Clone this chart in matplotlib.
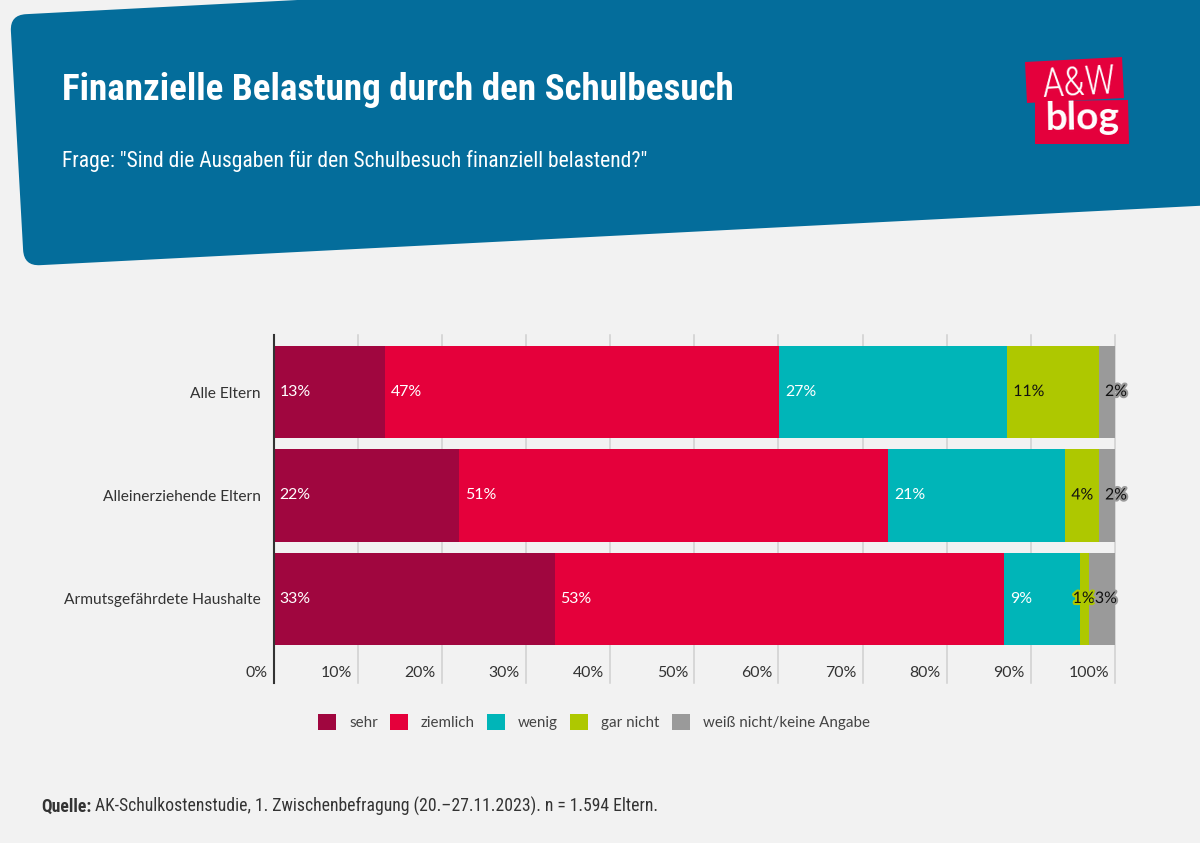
import matplotlib
matplotlib.use('Agg')
import matplotlib.pyplot as plt
from matplotlib import font_manager as fm
from matplotlib.path import Path
from matplotlib.patches import PathPatch, Polygon, Patch
import matplotlib.patheffects as pe
import matplotlib.transforms as mtransforms
import numpy as np

# ---------------- data ----------------
categories = ['Alle Eltern', 'Alleinerziehende Eltern', 'Armutsgefährdete Haushalte']
series_names = ['sehr', 'ziemlich', 'wenig', 'gar nicht', 'weiß nicht/keine Angabe']
sehr = [13.2, 22.1, 33.4]
ziemlich = [46.9, 50.9, 53.4]
wenig = [27.1, 21.1, 9.1]
gar_nicht = [10.9, 4.0, 1.0]
weiss_nicht = [1.9, 1.9, 3.1]
xticks = [0, 10, 20, 30, 40, 50, 60, 70, 80, 90, 100]
xtick_labels = ['0%', '10%', '20%', '30%', '40%', '50%', '60%', '70%', '80%', '90%', '100%']

title = 'Finanzielle Belastung durch den Schulbesuch'
subtitle = 'Frage: "Sind die Ausgaben für den Schulbesuch finanziell belastend?"'
source_bold = 'Quelle:'
source_text = 'AK-Schulkostenstudie, 1. Zwischenbefragung (20.–27.11.2023). n = 1.594 Eltern.'

# ---------------- style ----------------
series_colors = ['#a0063f', '#e5003b', '#00b5b8', '#aec800', '#9a9a9a']
label_colors = ['white', 'white', 'white', '#111111', '#111111']
bg_color = '#f2f2f2'
banner_color = '#046d9b'
logo_red = '#e4003c'
text_color = '#333333'

names = {f.name for f in fm.fontManager.ttflist}
def pick(cands, default):
    for c in cands:
        if c in names:
            return c
    return default

cond = pick(['Roboto Condensed', 'Liberation Sans Narrow', 'Open Sans Condensed',
             'DejaVu Sans Condensed', 'Noto Sans Condensed', 'Arial Narrow'], 'Liberation Sans')
body = pick(['Lato', 'Noto Sans', 'Open Sans'], 'DejaVu Sans')

W, H = 1200, 843
fig = plt.figure(figsize=(W / 100, H / 100), dpi=100, facecolor=bg_color)

# background axes in pixel coordinates
bg = fig.add_axes([0, 0, 1, 1], zorder=0)
bg.set_xlim(0, W)
bg.set_ylim(H, 0)
bg.axis('off')
bg.set_facecolor('none')


def rounded_poly(pts, radii):
    verts, codes = [], []
    n = len(pts)
    for i in range(n):
        V = np.array(pts[i], float)
        P = np.array(pts[i - 1], float)
        N = np.array(pts[(i + 1) % n], float)
        r = radii[i]
        if r == 0:
            verts.append(V); codes.append(Path.LINETO)
        else:
            A = V + r * (P - V) / np.linalg.norm(P - V)
            B = V + r * (N - V) / np.linalg.norm(N - V)
            verts += [A, V, B]
            codes += [Path.LINETO, Path.CURVE3, Path.CURVE3]
    codes[0] = Path.MOVETO
    verts.append(verts[0]); codes.append(Path.CLOSEPOLY)
    return Path(verts, codes)

banner = rounded_poly([(10, 15), (489, -10), (1215, -10), (1215, 205), (24, 266)],
                      [16, 0, 0, 0, 16])
bg.add_patch(PathPatch(banner, facecolor=banner_color, edgecolor='none'))

# logo
bg.add_patch(Polygon([(1025, 62), (1122, 57), (1124, 98), (1027, 103)],
                     closed=True, facecolor=logo_red, edgecolor='none'))
bg.add_patch(Polygon([(1035, 101), (1128, 100), (1129, 144), (1035, 144)],
                     closed=True, facecolor=logo_red, edgecolor='none'))

r = fig.canvas.get_renderer()

def fit(t, target):
    w = t.get_window_extent(r).width
    t.set_fontsize(t.get_fontsize() * target / w)

t_aw = bg.text(1079, 95, 'A&W', color='white', fontsize=26, family=cond, weight='light',
               ha='center', va='baseline', rotation=3, rotation_mode='anchor')
fit(t_aw, 76)
t_blog = bg.text(1083, 129, 'blog', color='white', fontsize=26, family=body, weight='bold',
                 ha='center', va='baseline', rotation=1, rotation_mode='anchor')
fit(t_blog, 75)

t_title = bg.text(62, 100, title, color='white', fontsize=28, family=cond, weight='bold',
                  ha='left', va='baseline')
fit(t_title, 671)
t_sub = bg.text(62, 167, subtitle, color='white', fontsize=17, family=cond,
                ha='left', va='baseline')
fit(t_sub, 586)

# footer
q1 = bg.text(41, 812, source_bold, color=text_color, fontsize=12, family=cond, weight='bold',
             ha='left', va='baseline')
q2 = bg.text(41, 812, source_text, color=text_color, fontsize=12, family=cond,
             ha='left', va='baseline')
gap = 4
w1 = q1.get_window_extent(r).width
w2 = q2.get_window_extent(r).width
s = (616 - gap) / (w1 + w2)
q1.set_fontsize(12 * s)
q2.set_fontsize(12 * s)
w1 = q1.get_window_extent(r).width
q2.set_x(41 + w1 + gap)

# ---------------- main chart ----------------
left_px, right_px = 273.5, 1115
top_px, bot_px = 335, 683
px_per_unit = (right_px - left_px) / 100
ax = fig.add_axes([left_px / W, 1 - bot_px / H, (right_px - left_px) / W, (bot_px - top_px) / H],
                  zorder=1)
ax.set_facecolor('none')
ax.set_xlim(0, 100)
ax.set_ylim(2.812, -0.551)
for sp in ax.spines.values():
    sp.set_visible(False)

for t in xticks[1:]:
    ax.axvline(t, color='#d0d0d0', lw=1.1, zorder=0, clip_on=False)

series = [sehr, ziemlich, wenig, gar_nicht, weiss_nicht]
y = np.arange(len(categories))
left = np.zeros(len(categories))
lab_tr = mtransforms.offset_copy(ax.transData, fig=fig, x=6, y=0, units='dots')
n_series = len(series)
for si, (vals, name, col, lcol) in enumerate(zip(series, series_names, series_colors, label_colors)):
    vals = np.array(vals)
    ax.barh(y, vals, left=left, height=0.895, color=col, edgecolor='none', zorder=2, label=name)
    for yi, l, v in zip(y, left, vals):
        kw = {}
        if lcol != 'white':
            kw['path_effects'] = [pe.withStroke(linewidth=3, foreground=col)]
        txt = ax.text(l, yi, f'{round(v)}%', transform=lab_tr, ha='left', va='center',
                      color=lcol, fontsize=11.4, family=body, zorder=4, **kw)
        tw = txt.get_window_extent(r).width
        if si < n_series - 1 and tw + 6 > v * px_per_unit:
            # too narrow: end the label where the next label begins
            txt.set_x(l + v)
            txt.set_ha('right')
    left = left + vals

ax.axvline(0, color='#333333', lw=1.5, zorder=5, clip_on=False)

ax.set_xticks([])
ax.set_yticks(y)
ax.set_yticklabels(categories, fontsize=11.2, family=body, color=text_color)
ax.tick_params(axis='y', length=0, pad=9)

tick_tr = mtransforms.offset_copy(ax.transData, fig=fig, x=-6, y=0, units='dots')
for t, lab in zip(xticks, xtick_labels):
    ax.text(t, 2.715, lab, transform=tick_tr, ha='right', va='center',
            fontsize=11.4, family=body, color=text_color)

handles = [Patch(facecolor=c, edgecolor='none') for c in series_colors]
fig.legend(handles, series_names, loc='center', bbox_to_anchor=(594 / W, 1 - 722 / H),
           ncol=5, frameon=False, handlelength=1.2, handleheight=1.2,
           handletextpad=0.85, columnspacing=0.8, borderaxespad=0,
           prop={'family': body, 'size': 10.9}, labelcolor='#444444')

fig.savefig('out.png', dpi=100, facecolor=bg_color)
